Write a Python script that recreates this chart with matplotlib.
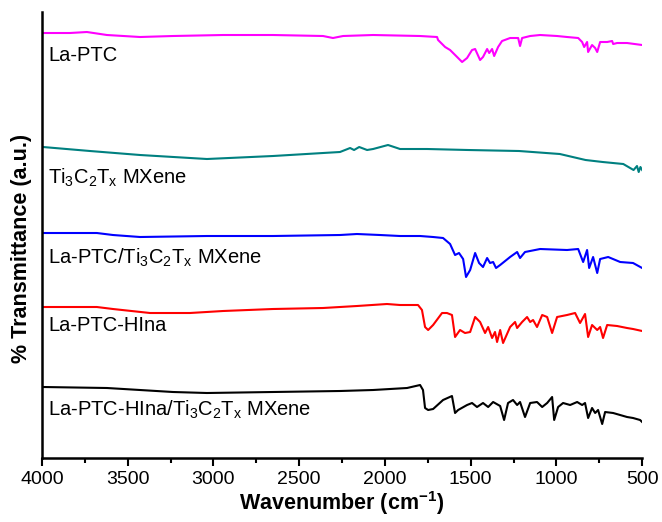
# FTIR spectra of La-PTC samples, stacked with offsets

import matplotlib
matplotlib.use("Agg")
import matplotlib.pyplot as plt
from matplotlib.ticker import MultipleLocator

plt.rc("font", family=["Liberation Sans", "DejaVu Sans"])
plt.rc("mathtext", default="regular")

# values (a.u., already offset)
wn_laptc = [3994, 3837, 3738, 3621, 3428, 3236, 2944, 2653, 2361, 2303, 2244, 2069,
            1795, 1696, 1690, 1649, 1620, 1579, 1550, 1521, 1492, 1474, 1445, 1428,
            1404, 1392, 1375, 1363, 1340, 1317, 1270, 1223, 1212, 1200, 1153, 1095,
            996, 938, 873, 850, 838, 821, 815, 792, 774, 762, 745, 704, 675, 669,
            646, 588, 500]
t_laptc = [425, 425, 426, 423, 421, 422, 423, 423, 422, 420, 422, 423,
           422, 421, 418, 411, 408, 401, 396, 400, 408, 409, 398, 401,
           409, 405, 409, 402, 411, 417, 420, 420, 412, 420, 422, 423,
           422, 421, 420, 416, 411, 416, 406, 413, 410, 406, 416, 416, 417, 414,
           415, 415, 413]

wn_mxene = [3994, 3720, 3428, 3038, 2653, 2361, 2262, 2203, 2180, 2150, 2104, 2069,
            1982, 1929, 1912, 1754, 1515, 1218, 980, 830, 730, 610, 550, 530,
            520, 510, 500]
t_mxene = [311, 307, 303, 299, 302, 305, 306, 310, 308, 311, 308, 309,
           313, 310, 309, 309, 308, 307, 304, 298, 296, 294, 288, 292,
           286, 291, 288]

wn_laptc_mx = [3994, 3680, 3586, 3428, 3038, 2653, 2262, 2163, 2029, 1912, 1795, 1719,
               1661, 1620, 1591, 1568, 1544, 1527, 1503, 1474, 1451, 1428, 1404, 1387,
               1369, 1352, 1328, 1270, 1229, 1212, 1183, 1095, 938, 873, 844, 821,
               809, 786, 762, 745, 698, 628, 553, 500]
t_laptc_mx = [225, 225, 223, 221, 222, 222, 223, 224, 223, 222, 222, 221,
              220, 214, 203, 205, 199, 181, 188, 205, 195, 191, 200, 195,
              196, 190, 193, 201, 206, 200, 206, 209, 208, 209, 196, 208,
              190, 201, 185, 199, 201, 196, 195, 190]

wn_hina = [3994, 3680, 3586, 3370, 3137, 2944, 2653, 2361, 2163, 1988, 1912, 1807,
           1784, 1766, 1748, 1719, 1667, 1638, 1609, 1591, 1562, 1533, 1503, 1474,
           1445, 1416, 1398, 1375, 1358, 1346, 1328, 1311, 1270, 1241, 1229, 1200,
           1171, 1153, 1136, 1113, 1083, 1054, 1025, 996, 938, 891, 862, 833,
           815, 792, 762, 745, 728, 704, 646, 588, 553, 500]
t_hina = [151, 151, 149, 145, 145, 147, 149, 150, 152, 154, 153, 153,
          148, 131, 128, 133, 145, 145, 143, 121, 128, 125, 126, 141,
          136, 125, 131, 120, 126, 116, 128, 115, 131, 136, 130, 136,
          141, 136, 138, 131, 143, 141, 125, 141, 143, 145, 135, 144,
          121, 133, 128, 131, 120, 133, 132, 130, 129, 127]

wn_hina_mx = [3994, 3621, 3236, 3038, 2653, 2262, 2069, 1871, 1795, 1778, 1766, 1748,
              1719, 1661, 1609, 1591, 1573, 1521, 1492, 1463, 1428, 1398, 1369, 1328,
              1305, 1282, 1253, 1229, 1212, 1183, 1153, 1113, 1083, 1054, 1025, 1013,
              990, 961, 920, 879, 850, 833, 815, 792, 774, 757, 733, 716,
              669, 588, 553, 512, 500]
t_hina_mx = [71, 70, 66, 65, 66, 67, 68, 70, 73, 68, 50, 48,
             49, 58, 62, 45, 48, 53, 55, 51, 55, 51, 56, 52,
             38, 55, 58, 53, 56, 41, 55, 56, 51, 55, 61, 38,
             51, 55, 53, 56, 53, 55, 40, 50, 45, 48, 34, 46,
             45, 41, 40, 38, 36]

spectra = [
    (wn_laptc, t_laptc, "#FF00FF", "La-PTC", 403),
    (wn_mxene, t_mxene, "#008080", "Ti$_3$C$_2$T$_x$ MXene", 280),
    (wn_laptc_mx, t_laptc_mx, "#0000FF", "La-PTC/Ti$_3$C$_2$T$_x$ MXene", 200),
    (wn_hina, t_hina, "#FF0000", "La-PTC-HIna", 133),
    (wn_hina_mx, t_hina_mx, "#000000", "La-PTC-HIna/Ti$_3$C$_2$T$_x$ MXene", 48),
]

fig = plt.figure(figsize=(6.62, 5.22), dpi=100)
ax = fig.add_axes([0.0634, 0.1226, 0.9066, 0.8544])

for wn, t, col, lab, ylab in spectra:
    ax.plot(wn, t, color=col, lw=1.5)
    ax.text(3965, ylab, lab, fontsize=14.5, va="center", ha="left")

ax.set_xlim(4000, 500)
ax.set_ylim(0, 446)
ax.xaxis.set_major_locator(MultipleLocator(500))
ax.xaxis.set_minor_locator(MultipleLocator(250))
ax.tick_params(axis="x", which="major", direction="out", length=6, width=1.5,
               labelsize=14)
ax.tick_params(axis="x", which="minor", direction="out", length=3.5, width=1.5)
ax.set_yticks([])
ax.spines["right"].set_visible(False)
ax.spines["top"].set_visible(False)
for s in ["left", "bottom"]:
    ax.spines[s].set_linewidth(1.8)

ax.set_xlabel("Wavenumber (cm$^{-1}$)", fontsize=15.5, fontweight="bold", labelpad=1)
ax.set_ylabel("% Transmittance (a.u.)", fontsize=15.5, fontweight="bold")
ax.yaxis.set_label_coords(-0.016, 0.47)

plt.savefig("out.png", dpi=100)
plt.close()
